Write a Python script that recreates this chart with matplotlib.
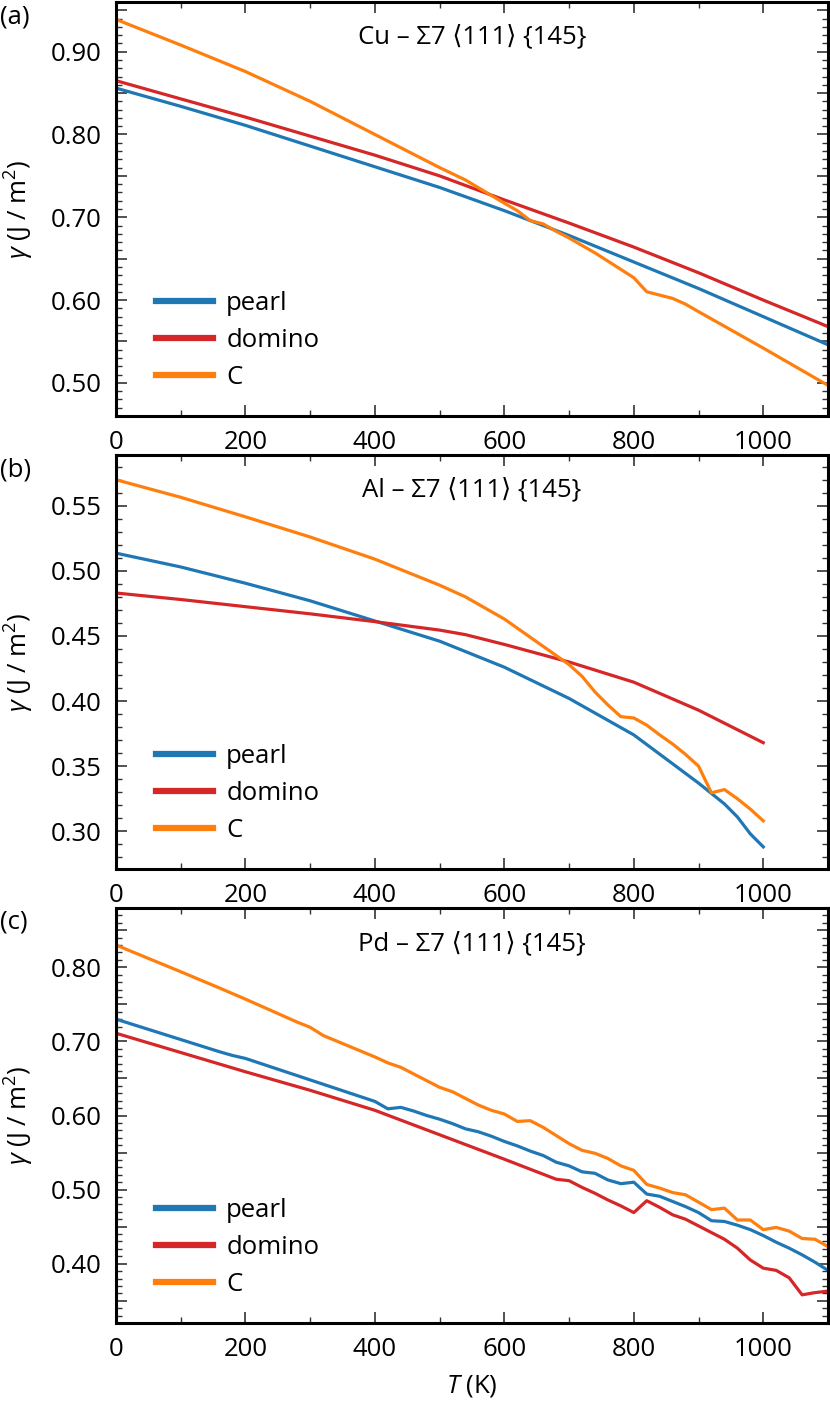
import matplotlib
matplotlib.use('Agg')
import matplotlib.pyplot as plt
from matplotlib.ticker import MultipleLocator, FuncFormatter

plt.rcParams['font.family'] = ['Open Sans', 'DejaVu Sans']
plt.rcParams['mathtext.fontset'] = 'custom'
plt.rcParams['mathtext.rm'] = 'Open Sans'
plt.rcParams['mathtext.it'] = 'Open Sans:italic'
plt.rcParams['font.size'] = 18.5

# --- Cu ---
cu_t = [0, 100, 200, 300, 400, 500, 600, 700, 800, 900, 1000, 1100]
cu_pearl = [0.856, 0.834, 0.811, 0.786, 0.761, 0.736, 0.708, 0.678, 0.646, 0.614, 0.580, 0.546]
cu_domino = [0.865, 0.843, 0.821, 0.798, 0.775, 0.750, 0.721, 0.693, 0.664, 0.633, 0.600, 0.568]
cu_c_t = [0, 100, 200, 300, 400, 500, 540, 600, 620, 640, 660, 680, 700, 720, 740,
          760, 780, 800, 820, 840, 860, 880, 900, 1000, 1100]
cu_c = [0.939, 0.908, 0.876, 0.840, 0.800, 0.760, 0.745, 0.717, 0.708, 0.696, 0.692,
        0.683, 0.675, 0.666, 0.657, 0.647, 0.637, 0.627, 0.610, 0.606, 0.602, 0.595,
        0.586, 0.542, 0.497]

# --- Al ---
al_pearl_t = [0, 100, 200, 300, 400, 500, 540, 600, 700, 800, 900, 920, 940, 960, 980, 1000]
al_pearl = [0.5136, 0.503, 0.4905, 0.477, 0.4615, 0.446, 0.438, 0.426, 0.402, 0.374,
            0.337, 0.329, 0.321, 0.311, 0.298, 0.288]
al_domino_t = [0, 100, 200, 300, 400, 500, 540, 600, 700, 800, 900, 1000]
al_domino = [0.483, 0.478, 0.4725, 0.467, 0.461, 0.4545, 0.451, 0.4435, 0.430, 0.4145, 0.393, 0.368]
al_c_t = [0, 100, 200, 300, 400, 500, 540, 600, 640, 680, 700, 720, 740, 760, 780,
          800, 820, 840, 860, 880, 900, 920, 940, 960, 980, 1000]
al_c = [0.570, 0.5565, 0.5415, 0.526, 0.509, 0.489, 0.480, 0.463, 0.449, 0.435, 0.428,
        0.419, 0.407, 0.397, 0.388, 0.387, 0.3815, 0.374, 0.367, 0.359, 0.350, 0.3295,
        0.332, 0.325, 0.317, 0.308]

# --- Pd ---
pd_pearl_t = [0, 80, 160, 180, 200, 300, 400, 420, 440, 460, 480, 500, 520, 540, 560,
              580, 600, 620, 640, 660, 680, 700, 720, 740, 760, 780, 800, 820, 840, 860,
              880, 900, 920, 940, 960, 980, 1000, 1020, 1040, 1060, 1080, 1100]
pd_pearl = [0.730, 0.708, 0.686, 0.681, 0.677, 0.648, 0.619, 0.609, 0.611, 0.606, 0.600,
            0.595, 0.589, 0.582, 0.578, 0.572, 0.565, 0.559, 0.552, 0.546, 0.537, 0.532,
            0.524, 0.522, 0.513, 0.508, 0.510, 0.494, 0.491, 0.484, 0.477, 0.469, 0.458,
            0.457, 0.452, 0.446, 0.438, 0.429, 0.421, 0.412, 0.402, 0.391]
pd_domino_t = [0, 100, 200, 300, 400, 500, 600, 680, 700, 720, 740, 760, 780, 800, 820,
               840, 860, 880, 900, 920, 940, 960, 980, 1000, 1020, 1040, 1060, 1080, 1100]
pd_domino = [0.711, 0.685, 0.659, 0.634, 0.607, 0.574, 0.541, 0.514, 0.512, 0.503, 0.495,
             0.486, 0.478, 0.469, 0.485, 0.476, 0.466, 0.460, 0.451, 0.442, 0.433, 0.421,
             0.405, 0.394, 0.391, 0.381, 0.358, 0.361, 0.363]
pd_c_t = [0, 100, 160, 200, 280, 300, 320, 400, 420, 440, 460, 480, 500, 520, 540, 560,
          580, 600, 620, 640, 660, 680, 700, 720, 740, 760, 780, 800, 820, 840, 860, 880,
          900, 920, 940, 960, 980, 1000, 1020, 1040, 1060, 1080, 1100]
pd_c = [0.830, 0.794, 0.772, 0.757, 0.726, 0.719, 0.708, 0.679, 0.671, 0.665, 0.656,
        0.647, 0.638, 0.632, 0.623, 0.614, 0.607, 0.602, 0.592, 0.593, 0.584, 0.573,
        0.562, 0.553, 0.549, 0.542, 0.532, 0.526, 0.507, 0.502, 0.496, 0.493, 0.483,
        0.473, 0.475, 0.459, 0.459, 0.446, 0.449, 0.444, 0.434, 0.433, 0.423]

titles = ['Cu \u2013 \u03a37 \u27e8111\u27e9 {145}',
          'Al \u2013 \u03a37 \u27e8111\u27e9 {145}',
          'Pd \u2013 \u03a37 \u27e8111\u27e9 {145}']
panel_labels = ['(a)', '(b)', '(c)']
ylims = [(0.46, 0.96), (0.271, 0.589), (0.32, 0.88)]
label_step = [0.1, 0.05, 0.1]

series = [
    [(cu_t, cu_pearl), (cu_t, cu_domino), (cu_c_t, cu_c)],
    [(al_pearl_t, al_pearl), (al_domino_t, al_domino), (al_c_t, al_c)],
    [(pd_pearl_t, pd_pearl), (pd_domino_t, pd_domino), (pd_c_t, pd_c)],
]
names = ['pearl', 'domino', 'C']
colors = ['#1f77b4', '#d62728', '#ff7f0e']

W, H = 830, 1403
fig = plt.figure(figsize=(W / 100, H / 100), dpi=100)

# axes boxes in pixels: (top, bottom)
boxes = [(2, 416), (455, 869), (908, 1323)]
label_y = [17, 470, 922]
left_px, right_px = 116, 828

for i in range(3):
    top, bot = boxes[i]
    ax = fig.add_axes([left_px / W, 1 - bot / H, (right_px - left_px) / W, (bot - top) / H])
    for (t, v), name, c in zip(series[i], names, colors):
        ax.plot(t, v, color=c, lw=2.3, label=name)

    ax.set_xlim(0, 1100)
    ax.set_ylim(*ylims[i])
    ax.xaxis.set_major_locator(MultipleLocator(200))
    ax.xaxis.set_minor_locator(MultipleLocator(100))
    ax.yaxis.set_major_locator(MultipleLocator(0.05))
    ax.yaxis.set_minor_locator(MultipleLocator(0.01))

    # label only every 0.1 (or 0.05 for Al)
    step = label_step[i]
    def fmt(val, pos, step=step):
        k = val / step
        if abs(k - round(k)) < 1e-6:
            return '%.2f' % val
        return ''
    ax.yaxis.set_major_formatter(FuncFormatter(fmt))

    ax.tick_params(which='both', direction='in', top=True, right=True, color='#333333')
    ax.tick_params(which='major', length=8, width=1.2, pad=10)
    ax.tick_params(which='minor', length=4.5, width=1.0)
    for s in ax.spines.values():
        s.set_linewidth(2.2)

    ax.text(0.5, 0.915, titles[i], transform=ax.transAxes, ha='center', va='center')
    ax.set_ylabel(r'$\gamma$ (J / m$^2$)')
    ax.yaxis.set_label_coords(-0.112, 0.5)

    leg = ax.legend(loc='lower left', bbox_to_anchor=(0.023, 0.008), frameon=False,
                    handlelength=2.25, handletextpad=0.5, labelspacing=0.45)
    for h in leg.legend_handles:
        h.set_linewidth(4.5)

    fig.text(0.0, 1 - label_y[i] / H, panel_labels[i], ha='left', va='center')

    if i == 2:
        ax.set_xlabel(r'$T$ (K)')
        ax.xaxis.set_label_coords(0.5, -0.12)

fig.savefig('out.png', dpi=100)
